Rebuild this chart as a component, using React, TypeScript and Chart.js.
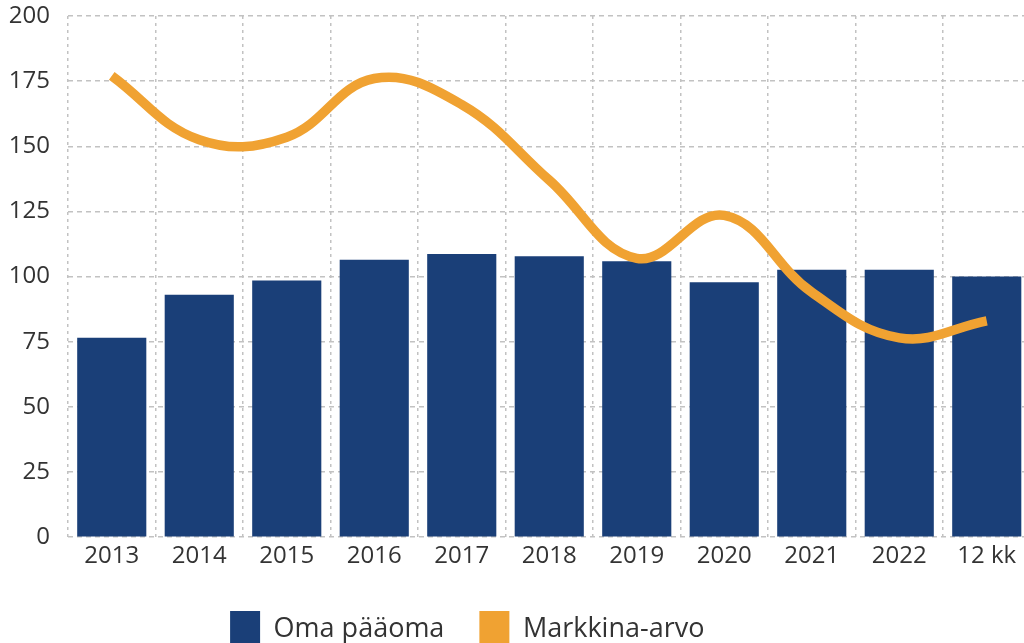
import React, { useEffect, useRef } from "react";
import { Chart, registerables } from "chart.js";

Chart.register(...registerables);

const categories = ["2013", "2014", "2015", "2016", "2017", "2018", "2019", "2020", "2021", "2022", "12 kk"];
const omaPaaoma = [76.5, 93, 98.5, 106.5, 108.7, 107.8, 105.9, 97.8, 102.6, 102.6, 100];
const markkinaArvo = [177, 152.5, 153.5, 176, 166, 137, 107, 123.5, 94, 76.5, 83];
const seriesNames = ["Oma pääoma", "Markkina-arvo"];

const BLUE = "#1a3f78";
const ORANGE = "#f0a232";
const TEXT = "#333333";
const GRID = "#c2c2c2";
const FONT = "'Open Sans', 'Noto Sans', sans-serif";

export default function App() {
  const ref = useRef<HTMLCanvasElement | null>(null);

  useEffect(() => {
    if (!ref.current) return;
    const chart = new Chart(ref.current, {
      type: "bar",
      data: {
        labels: categories,
        datasets: [
          {
            type: "bar",
            label: seriesNames[0],
            data: omaPaaoma,
            backgroundColor: BLUE,
            borderWidth: 0,
            barPercentage: 0.79,
            categoryPercentage: 1,
            order: 1,
          },
          {
            type: "line",
            label: seriesNames[1],
            data: markkinaArvo,
            borderColor: ORANGE,
            backgroundColor: ORANGE,
            borderWidth: 9.5,
            borderCapStyle: "butt",
            pointRadius: 0,
            tension: 0.4,
            fill: false,
            order: 0,
          },
        ],
      },
      options: {
        responsive: false,
        animation: false,
        devicePixelRatio: 1,
        layout: { padding: { left: 0, right: 0.5, top: 16, bottom: 0 } },
        scales: {
          x: {
            offset: true,
            grid: { offset: true, color: GRID, lineWidth: 1.5, drawTicks: false },
            border: { display: false, dash: [3, 4] },
            ticks: {
              color: TEXT,
              font: { family: FONT, size: 24 },
              padding: 5,
              maxRotation: 0,
              autoSkip: false,
            },
          },
          y: {
            min: 0,
            max: 200,
            grid: { color: GRID, lineWidth: 1.5, drawTicks: false },
            border: { display: false, dash: [5, 4] },
            ticks: {
              stepSize: 25,
              color: TEXT,
              font: { family: FONT, size: 24 },
              padding: 18,
            },
            afterFit: (s: any) => {
              s.width = 164;
              s.paddingTop = 0;
              s.paddingBottom = 0;
            },
          },
        },
        plugins: {
          tooltip: { enabled: false },
          legend: {
            position: "bottom",
            labels: {
              color: TEXT,
              font: { family: FONT, size: 27 },
              boxWidth: 30,
              boxHeight: 36,
              padding: 35,
              sort: (a: any, b: any) => a.datasetIndex - b.datasetIndex,
              generateLabels: (c: any) => {
                const items = (Chart.defaults.plugins.legend.labels as any).generateLabels(c);
                return items.map((it: any) => ({
                  ...it,
                  lineWidth: 0,
                  strokeStyle: "transparent",
                  fillStyle: it.datasetIndex === 0 ? BLUE : ORANGE,
                }));
              },
            },
          },
        },
      },
    });
    return () => chart.destroy();
  }, []);

  return (
    <div
      style={{
        position: "fixed",
        left: 0,
        top: 0,
        width: 1024,
        height: 643,
        overflow: "hidden",
        background: "#ffffff",
      }}
    >
      <canvas
        ref={ref}
        width={1127}
        height={657}
        style={{ position: "absolute", left: -96, top: 0, width: 1127, height: 657 }}
      />
    </div>
  );
}
